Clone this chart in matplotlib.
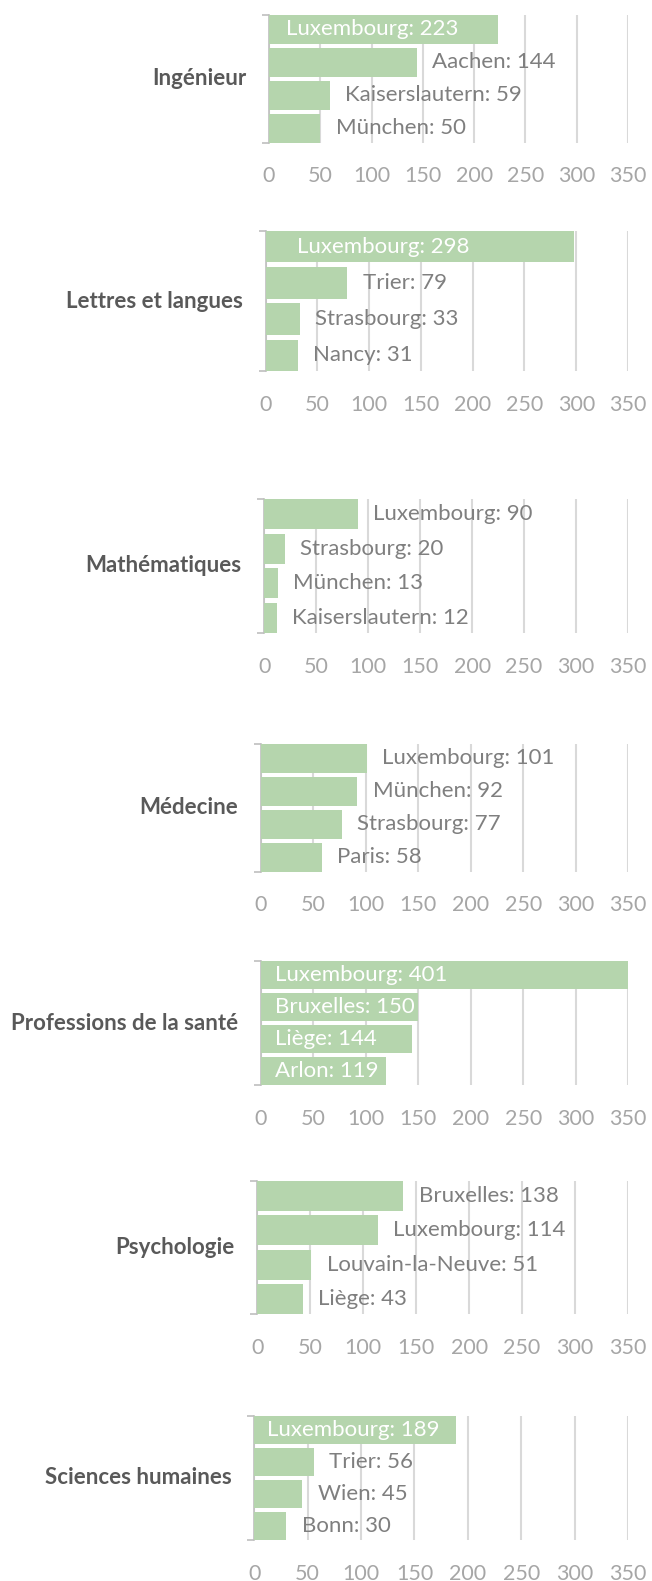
import matplotlib.pyplot as plt

# --- data -------------------------------------------------
categories = ["Ingénieur", "Lettres et langues", "Mathématiques", "Médecine",
              "Professions de la santé", "Psychologie", "Sciences humaines"]

cities = [
    ["Luxembourg", "Aachen", "Kaiserslautern", "München"],
    ["Luxembourg", "Trier", "Strasbourg", "Nancy"],
    ["Luxembourg", "Strasbourg", "München", "Kaiserslautern"],
    ["Luxembourg", "München", "Strasbourg", "Paris"],
    ["Luxembourg", "Bruxelles", "Liège", "Arlon"],
    ["Bruxelles", "Luxembourg", "Louvain-la-Neuve", "Liège"],
    ["Luxembourg", "Trier", "Wien", "Bonn"],
]

values = [
    [223, 144, 59, 50],
    [298, 79, 33, 31],
    [90, 20, 13, 12],
    [101, 92, 77, 58],
    [401, 150, 144, 119],
    [138, 114, 51, 43],
    [189, 56, 45, 30],
]

# label drawn inside the bar (white) or after it (grey)
inside = [
    [True, False, False, False],
    [True, False, False, False],
    [False, False, False, False],
    [False, False, False, False],
    [True, True, True, True],
    [False, False, False, False],
    [True, False, False, False],
]

ticks = [0, 50, 100, 150, 200, 250, 300, 350]

# --- layout (pixels in the 652 x 1581 picture) ------------
W, H = 652, 1581
lefts = [269, 265.7, 264.3, 261, 261, 257.3, 254.3]
tops = [15, 231, 499, 744, 961, 1181, 1416]
bottoms = [142.7, 371, 633, 871.7, 1085, 1314, 1540]
right = 628
inside_x = [17, 30, 15, 15, 13, 15, 12]

BAR = "#b5d5ad"
GRID = "#d9d9d9"
TXT = "#7f7f7f"
TICK = "#a6a6a6"
CAT = "#595959"

plt.rcParams['font.family'] = ['Lato', 'DejaVu Sans']

fig = plt.figure(figsize=(W / 100, H / 100), dpi=100)

for k, cat in enumerate(categories):
    L, T, B = lefts[k], tops[k], bottoms[k]
    ax = fig.add_axes([L / W, 1 - B / H, (right - L) / W, (B - T) / H])
    vals = values[k]
    ys = list(range(len(vals)))
    ax.barh(ys, vals, height=0.865, color=BAR, zorder=3)
    ax.set_xlim(0, 350)
    ax.set_ylim(3.4325, -0.4325)

    ax.set_xticks(ticks)
    ax.set_xticklabels([str(t) for t in ticks])
    ax.tick_params(axis='x', length=0, pad=17, labelsize=15.5, labelcolor=TICK)
    ax.set_yticks([-0.4325, 3.4325])
    ax.set_yticklabels([])
    ax.tick_params(axis='y', length=5, width=1.2, color="#bfbfbf")
    ax.grid(axis='x', color=GRID, lw=1.5, zorder=0)
    for s in ['top', 'right', 'bottom']:
        ax.spines[s].set_visible(False)
    ax.spines['left'].set_color("#bfbfbf")
    ax.spines['left'].set_linewidth(1.2)

    for i, (c, v) in enumerate(zip(cities[k], vals)):
        lab = f"{c}: {v}"
        if inside[k][i]:
            ax.text(inside_x[k], i, lab, color="white", fontsize=16,
                    va='center', ha='left', zorder=4)
        else:
            ax.annotate(lab, xy=(v, i), xytext=(11, 0), textcoords='offset points',
                        color=TXT, fontsize=16, va='center', ha='left', zorder=4)

    ax.text(-23 / (right - L), 0.5, cat, transform=ax.transAxes,
            ha='right', va='center', fontsize=16, fontweight='bold', color=CAT)

fig.savefig("out.png", dpi=100)
